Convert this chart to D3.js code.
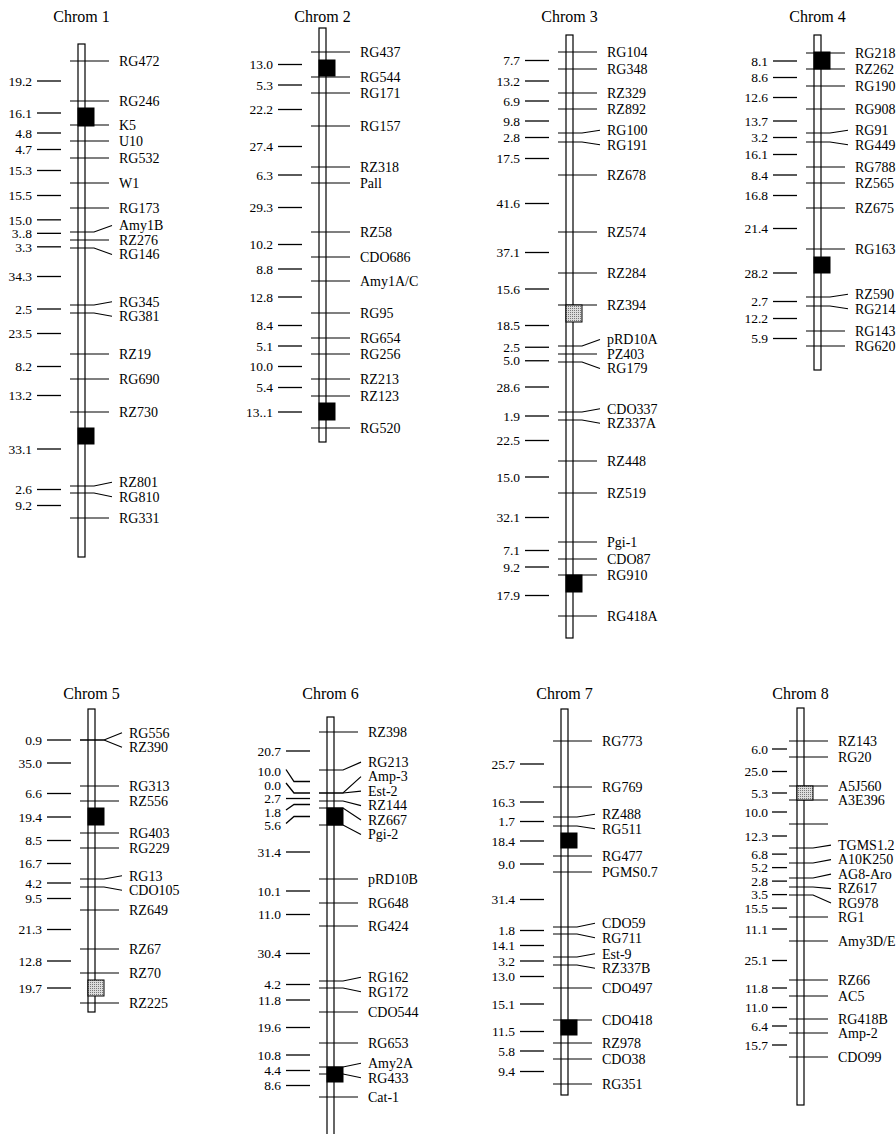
<!DOCTYPE html>
<html>
<head>
<meta charset="utf-8">
<script src="https://cdn.jsdelivr.net/npm/d3@7"></script>
<style>
  html, body { margin: 0; background: #fff; }
  svg { display: block; }
  text { font-family: "Liberation Serif", "Times New Roman", serif; fill: #000; }
</style>
</head>
<body>
<div id="chart"></div>
<script>
// marker names (top to bottom), apparent map position in cM measured from the row origin,
// and the printed interval distances between neighbouring markers
const chr1Markers = ['RG472', 'RG246', 'K5', 'U10', 'RG532', 'W1', 'RG173', 'Amy1B', 'RZ276', 'RG146',
    'RG345', 'RG381', 'RZ19', 'RG690', 'RZ730', 'RZ801', 'RG810', 'RG331'];
const chr1Pos = [16.5, 36.5, 48.5, 56.5, 65, 77.5, 90, 102, 106, 110, 138.5, 142.5, 163, 175.5, 192, 229, 232.5, 245];
const chr1Gaps = ['19.2', '16.1', '4.8', '4.7', '15.3', '15.5', '15.0', '3..8', '3.3', '34.3', '2.5', '23.5',
    '8.2', '13.2', '33.1', '2.6', '9.2'];

const chr2Markers = ['RG437', 'RG544', 'RG171', 'RG157', 'RZ318', 'Pall', 'RZ58', 'CDO686', 'Amy1A/C', 'RG95',
    'RG654', 'RG256', 'RZ213', 'RZ123', 'RG520'];
const chr2Pos = [12, 24.5, 32.5, 49, 69.5, 77.5, 102, 114.5, 126.5, 142.5, 155, 163, 175.5, 184, 200];
const chr2Gaps = ['13.0', '5.3', '22.2', '27.4', '6.3', '29.3', '10.2', '8.8', '12.8', '8.4', '5.1', '10.0', '5.4', '13..1'];

const chr3Markers = ['RG104', 'RG348', 'RZ329', 'RZ892', 'RG100', 'RG191', 'RZ678', 'RZ574', 'RZ284', 'RZ394',
    'pRD10A', 'PZ403', 'RG179', 'CDO337', 'RZ337A', 'RZ448', 'RZ519', 'Pgi-1', 'CDO87', 'RG910', 'RG418A'];
const chr3Pos = [12, 20.5, 32.5, 40.5, 52.5, 57, 73.5, 102, 122.5, 138.5, 159, 163, 167, 192, 196, 216.5,
    232.5, 257, 265.5, 273.5, 294];
const chr3Gaps = ['7.7', '13.2', '6.9', '9.8', '2.8', '17.5', '41.6', '37.1', '15.6', '18.5', '2.5', '5.0',
    '28.6', '1.9', '22.5', '15.0', '32.1', '7.1', '9.2', '17.9'];

const chr4Markers = ['RG218', 'RZ262', 'RG190', 'RG908', 'RG91', 'RG449', 'RG788', 'RZ565', 'RZ675', 'RG163',
    'RZ590', 'RG214', 'RG143', 'RG620'];
const chr4Pos = [12.5, 20.5, 29, 40.5, 52.5, 57, 69.5, 77.5, 90, 110.5, 134.5, 139, 151.5, 159];
const chr4Gaps = ['8.1', '8.6', '12.6', '13.7', '3.2', '16.1', '8.4', '16.8', '21.4', '28.2', '2.7', '12.2', '5.9'];

const chr5Markers = ['RG556', 'RZ390', 'RG313', 'RZ556', 'RG403', 'RG229', 'RG13', 'CDO105', 'RZ649', 'RZ67',
    'RZ70', 'RZ225'];
const chr5Pos = [16, 16, 39, 46.5, 62.5, 70, 85.5, 89.5, 101, 120.5, 132.5, 147.5];
const chr5Gaps = ['0.9', '35.0', '6.6', '19.4', '8.5', '16.7', '4.2', '9.5', '21.3', '12.8', '19.7'];

const chr6Markers = ['RZ398', 'RG213', 'Amp-3', 'Est-2', 'RZ144', 'RZ667', 'Pgi-2', 'pRD10B', 'RG648', 'RG424',
    'RG162', 'RG172', 'CDO544', 'RG653', 'Amy2A', 'RG433', 'Cat-1'];
const chr6Pos = [12, 31, 42.5, 42.5, 46.5, 50, 58.5, 85.5, 97.5, 109, 136.5, 140, 152, 167.5, 179.5, 183, 194.5];
const chr6Gaps = ['20.7', '10.0', '0.0', '2.7', '1.8', '5.6', '31.4', '10.1', '11.0', '30.4', '4.2', '11.8',
    '19.6', '10.8', '4.4', '8.6'];

const chr7Markers = ['RG773', 'RG769', 'RZ488', 'RG511', 'RG477', 'PGMS0.7', 'CDO59', 'RG711', 'Est-9', 'RZ337B',
    'CDO497', 'CDO418', 'RZ978', 'CDO38', 'RG351'];
const chr7Pos = [16.5, 39.5, 54.5, 59, 74, 82, 109.5, 113, 124.5, 128.5, 140, 156, 167.5, 175.5, 188];
const chr7Gaps = ['25.7', '16.3', '1.7', '18.4', '9.0', '31.4', '1.8', '14.1', '3.2', '13.0', '15.1', '11.5', '5.8', '9.4'];

const chr8Markers = ['RZ143', 'RG20', 'A5J560', 'A3E396', '', 'TGMS1.2', 'A10K250', 'AG8-Aro', 'RZ617', 'RG978',
    'RG1', 'Amy3D/E', 'RZ66', 'AC5', 'RG418B', 'Amp-2', 'CDO99'];
const chr8Pos = [16.5, 24.5, 39, 46, 58, 70, 77.5, 85, 89.5, 93.5, 104.5, 116.5, 136, 144, 155.5, 162.5, 174.5];
const chr8Gaps = ['6.0', '25.0', '5.3', '10.0', '12.3', '6.8', '5.2', '2.8', '3.5', '15.5', '11.1', '25.1',
    '11.8', '11.0', '6.4', '15.7'];

const chromTitles = ['Chrom 1', 'Chrom 2', 'Chrom 3', 'Chrom 4', 'Chrom 5', 'Chrom 6', 'Chrom 7', 'Chrom 8'];
// drawn extent of each chromosome (cM from row origin)
const barStart = [8, 0, 3.5, 3.5, 0.5, 4.5, 0.5, 0];
const barEnd = [264.5, 207, 305, 171, 152, 216, 193.5, 198.5];
// highlighted segments: chromosome index, from cM, to cM, kind
const segments = [
    [0, 40, 49, 'solid'], [0, 200, 208, 'solid'],
    [1, 16, 24, 'solid'], [1, 187.5, 196, 'solid'],
    [2, 138.5, 147, 'stipple'], [2, 273.5, 282, 'solid'],
    [3, 12, 20.5, 'solid'], [3, 114.5, 122.5, 'solid'],
    [4, 50, 58.5, 'solid'], [4, 136, 144, 'stipple'],
    [5, 50, 58.5, 'solid'], [5, 179.5, 187, 'solid'],
    [6, 62.5, 70, 'solid'], [6, 156, 163.5, 'solid'],
    [7, 39, 46, 'stipple']
];

const chroms = [
    [chr1Markers, chr1Pos, chr1Gaps], [chr2Markers, chr2Pos, chr2Gaps],
    [chr3Markers, chr3Pos, chr3Gaps], [chr4Markers, chr4Pos, chr4Gaps],
    [chr5Markers, chr5Pos, chr5Gaps], [chr6Markers, chr6Pos, chr6Gaps],
    [chr7Markers, chr7Pos, chr7Gaps], [chr8Markers, chr8Pos, chr8Gaps]
].map(([markers, pos, gaps], i) => ({ title: chromTitles[i], markers, pos, gaps }));

// layout
const width = 896, height = 1134;
const pxPerCM = 2;
const rowTop = [28, 708];
const titleY = [22, 699];
const barLeft = [78, 319, 566, 814, 88, 327, 561, 797];
const barW = 7, segW = 16;
const labelSize = 14, numSize = 13.5;

const svg = d3.select('#chart')
    .append('svg')
    .attr('width', width)
    .attr('height', height)
    .attr('viewBox', `0 0 ${width} ${height}`);

const defs = svg.append('defs');
const pat = defs.append('pattern')
    .attr('id', 'stipple')
    .attr('width', 2).attr('height', 2)
    .attr('patternUnits', 'userSpaceOnUse');
pat.append('rect').attr('width', 2).attr('height', 2).attr('fill', '#dcdcdc');
pat.append('rect').attr('width', 1).attr('height', 1).attr('fill', '#777');

// push labels apart so neighbours keep at least `gap` px between them
function relax(targets, gap) {
    const p = targets.slice();
    for (let it = 0; it < 500; it++) {
        let moved = false;
        for (let k = 1; k < p.length; k++) {
            const d = p[k] - p[k - 1];
            if (d < gap - 0.01) {
                const s = (gap - d) / 2;
                p[k - 1] -= s;
                p[k] += s;
                moved = true;
            }
        }
        if (!moved) break;
    }
    return p;
}

chroms.forEach((c, i) => {
    const row = i < 4 ? 0 : 1;
    const y = d3.scaleLinear()
        .domain([0, 250])
        .range([rowTop[row], rowTop[row] + 250 * pxPerCM]);
    const L = barLeft[i];
    const tight = i === 7;
    const numEnd = tight ? L - 29 : L - 46;
    const dashStart = tight ? L - 25 : L - 41;
    const dashEnd = tight ? L - 10 : L - 17;

    const g = svg.append('g');

    g.append('text')
        .attr('x', L + barW / 2)
        .attr('y', titleY[row])
        .attr('text-anchor', 'middle')
        .attr('font-size', 16)
        .text(c.title);

    g.append('rect')
        .attr('x', L)
        .attr('y', y(barStart[i]))
        .attr('width', barW)
        .attr('height', y(barEnd[i]) - y(barStart[i]))
        .attr('fill', '#fff')
        .attr('stroke', '#000')
        .attr('stroke-width', 1.2);

    // markers
    const ticks = c.pos.map(p => y(p));
    const named = c.markers.map((m, k) => k).filter(k => c.markers[k] !== '');
    const placed = relax(named.map(k => ticks[k]), 14.5);
    const labelY = {};
    named.forEach((k, j) => { labelY[k] = placed[j]; });

    c.markers.forEach((m, k) => {
        const ty = ticks[k];
        const ly = labelY[k] === undefined ? ty : labelY[k];
        const path = Math.abs(ly - ty) < 1
            ? `M${L - 8},${ty}H${L + 31}`
            : `M${L - 8},${ty}H${L + 16}L${L + 34},${ly}`;
        g.append('path')
            .attr('d', path)
            .attr('fill', 'none')
            .attr('stroke', '#000')
            .attr('stroke-width', 1.2);
        if (m) {
            g.append('text')
                .attr('x', L + 41)
                .attr('y', ly)
                .attr('dy', '0.35em')
                .attr('font-size', labelSize)
                .text(m);
        }
    });

    // interval distances on the left
    const mids = c.gaps.map((gp, k) => (ticks[k] + ticks[k + 1]) / 2);
    const numY = relax(mids, 13.5);
    c.gaps.forEach((gp, k) => {
        const ny = numY[k], my = mids[k];
        const path = Math.abs(ny - my) > 6
            ? `M${dashStart},${ny - 2}L${dashStart + 8},${my}H${dashEnd}`
            : `M${dashStart},${ny}H${dashEnd}`;
        g.append('path')
            .attr('d', path)
            .attr('fill', 'none')
            .attr('stroke', '#000')
            .attr('stroke-width', 1.3);
        g.append('text')
            .attr('x', numEnd)
            .attr('y', ny)
            .attr('dy', '0.35em')
            .attr('text-anchor', 'end')
            .attr('font-size', numSize)
            .text(gp);
    });

    // highlighted segments
    segments.filter(s => s[0] === i).forEach(([ci, from, to, kind]) => {
        g.append('rect')
            .attr('x', L)
            .attr('y', y(from))
            .attr('width', segW)
            .attr('height', y(to) - y(from))
            .attr('fill', kind === 'solid' ? '#000' : 'url(#stipple)')
            .attr('stroke', '#000')
            .attr('stroke-width', 1);
    });
});
</script>
</body>
</html>
